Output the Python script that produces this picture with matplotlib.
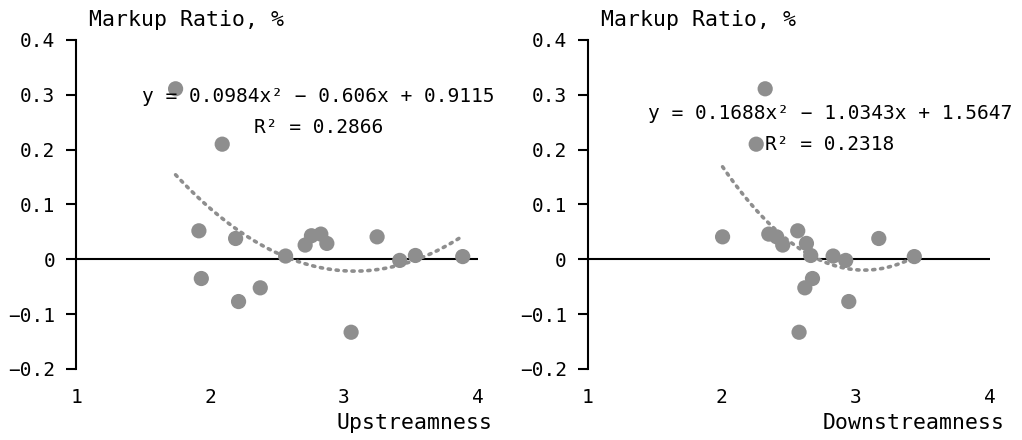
import numpy as np
import matplotlib.pyplot as plt

plt.rcParams['font.family'] = ['DejaVu Sans Mono', 'DejaVu Sans']

# upstreamness panel
up_x = [1.743, 2.091, 1.917, 1.935, 2.191, 2.213, 2.375, 2.564, 2.710,
        2.757, 2.827, 2.872, 3.053, 3.247, 3.416, 3.533, 3.886]
up_y = [0.311, 0.210, 0.052, -0.035, 0.038, -0.077, -0.052, 0.006, 0.026,
        0.043, 0.046, 0.029, -0.133, 0.041, -0.002, 0.007, 0.005]
up_coef = [0.0984, -0.606, 0.9115]
up_r2 = 0.2866

# downstreamness panel
down_x = [2.325, 2.258, 2.007, 2.352, 2.411, 2.456, 2.568, 2.633, 2.665,
          2.678, 2.621, 2.578, 2.832, 2.926, 2.949, 3.173, 3.438]
down_y = [0.311, 0.210, 0.041, 0.046, 0.041, 0.026, 0.052, 0.029, 0.007,
          -0.035, -0.052, -0.133, 0.006, -0.002, -0.077, 0.038, 0.005]
down_coef = [0.1688, -1.0343, 1.5647]
down_r2 = 0.2318

yticks = [-0.2, -0.1, 0, 0.1, 0.2, 0.3, 0.4]
ylabels = ['−0.2', '−0.1', '0', '0.1', '0.2', '0.3', '0.4']
xticks = [1, 2, 3, 4]

grey = '#8e8e8e'
fs = 14
fs_title = 15.5

fig = plt.figure(figsize=(10.22, 4.40), dpi=100)


def panel(rect, xs, ys, coef, r2, xlabel, eq_y, r2_y):
    ax = fig.add_axes(rect)
    ax.set_xlim(1, 4)
    ax.set_ylim(-0.2, 0.4)
    ax.axhline(0, color='black', lw=1.5, zorder=1)
    # trendline
    xx = np.linspace(min(xs), max(xs), 200)
    ax.plot(xx, np.polyval(coef, xx), color=grey, ls=(0, (0.6, 1.6)),
            lw=2.6, dash_capstyle='round', zorder=2)
    ax.scatter(xs, ys, s=120, color=grey, edgecolors='none', zorder=3)
    for s in ['top', 'right', 'bottom']:
        ax.spines[s].set_visible(False)
    ax.spines['left'].set_linewidth(1.5)
    ax.set_yticks(yticks)
    ax.set_yticklabels(ylabels)
    ax.set_xticks(xticks)
    ax.tick_params(axis='y', length=7, width=1.5, labelsize=fs, pad=8)
    ax.tick_params(axis='x', length=0, labelsize=fs, pad=14)
    a, b, c = coef
    eq = 'y = %sx² %s %sx + %s' % (a, '−' if b < 0 else '+', abs(b), c)
    ax.text(0.603, eq_y, eq, transform=ax.transAxes,
            ha='center', va='center', fontsize=fs)
    ax.text(0.603, r2_y, 'R² = %s' % r2, transform=ax.transAxes,
            ha='center', va='center', fontsize=fs)
    ax.text(0.032, 1.061, 'Markup Ratio, %', transform=ax.transAxes,
            ha='left', va='center', fontsize=fs_title)
    ax.text(1.037, -0.164, xlabel, transform=ax.transAxes,
            ha='right', va='center', fontsize=fs_title)
    return ax


panel([0.0744, 0.1614, 0.3933, 0.7477], up_x, up_y, up_coef, up_r2,
      'Upstreamness', 0.827, 0.733)
panel([0.575, 0.1614, 0.3933, 0.7477], down_x, down_y, down_coef, down_r2,
      'Downstreamness', 0.778, 0.681)

fig.savefig('out.png', dpi=100)
